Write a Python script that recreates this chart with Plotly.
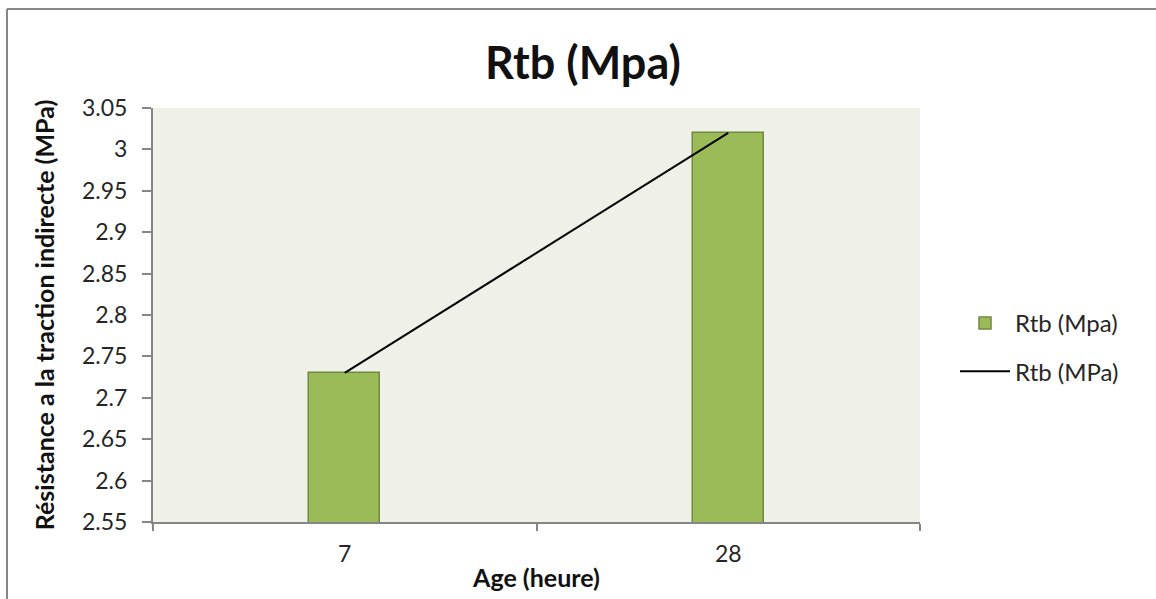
import plotly.graph_objects as go

categories = ["7", "28"]
bar_values = [2.73, 3.02]
line_values = [2.73, 3.02]
y_ticks = [2.55, 2.6, 2.65, 2.7, 2.75, 2.8, 2.85, 2.9, 2.95, 3.0, 3.05]
y_tick_labels = ["2.55", "2.6", "2.65", "2.7", "2.75", "2.8", "2.85", "2.9", "2.95", "3", "3.05"]

FONT = "Lato, Calibri, Arial, sans-serif"

fig = go.Figure()
fig.add_trace(go.Bar(
    x=categories, y=bar_values, name="Rtb (Mpa)", legendgroup="g1",
    marker=dict(color="#9BBB59", line=dict(color="#71893F", width=1.5)),
    width=0.185,
))
fig.add_trace(go.Scatter(
    x=categories, y=line_values, name="Rtb (MPa)", mode="lines", legendgroup="g2",
    line=dict(color="black", width=2),
))

L, R, T, B = 153, 236, 108, 77
W, H = 1156, 599
pw, ph = W - L - R, H - T - B

def px(x):
    return (x - L) / pw

def py(y):
    return (H - B - y) / ph

fig.update_layout(
    width=W, height=H,
    margin=dict(l=L, r=R, t=T, b=B),
    paper_bgcolor="white",
    plot_bgcolor="#EFF1E9",
    font=dict(family=FONT, size=23, color="#262626"),
    bargap=0,
    showlegend=True,
    legend=dict(
        x=px(955), y=py(301), xanchor="left", yanchor="top",
        font=dict(family=FONT, size=24, color="#262626"),
        bgcolor="rgba(0,0,0,0)", itemwidth=50, tracegroupgap=14,
    ),
    xaxis=dict(
        type="category", tickson="boundaries", ticks="outside", ticklen=7,
        tickcolor="#868686", tickwidth=2, showline=True, linecolor="#868686", linewidth=2,
        showgrid=False, tickfont=dict(size=23, color="#262626"), range=[-0.5, 1.5],
        ticklabelstandoff=10,
        title=dict(text="<b>Age (heure)</b>", font=dict(size=25, color="#111111"), standoff=4),
    ),
    yaxis=dict(
        range=[2.55, 3.05], tickvals=y_ticks, ticktext=y_tick_labels,
        ticks="outside", ticklen=9, tickcolor="#868686", tickwidth=2,
        showline=True, linecolor="#868686", linewidth=2, showgrid=False, zeroline=False,
        tickfont=dict(size=23, color="#262626"), ticklabelstandoff=10,
        title=dict(text="<b>Résistance a la traction indirecte (MPa)</b>",
                   font=dict(size=25, color="#111111"), standoff=20),
    ),
    annotations=[dict(
        text="<b>Rtb (Mpa)</b>", xref="paper", yref="paper",
        x=px(583), y=py(62), xanchor="center", yanchor="middle",
        showarrow=False, font=dict(family=FONT, size=45, color="#111111"),
    )],
    shapes=[
        dict(type="line", xref="paper", yref="paper", x0=px(7), x1=px(1170), y0=py(9), y1=py(9),
             line=dict(color="#878787", width=2)),
        dict(type="line", xref="paper", yref="paper", x0=px(7), x1=px(7), y0=py(9), y1=py(620),
             line=dict(color="#878787", width=2)),
    ],
)

fig.write_html("out.html")
